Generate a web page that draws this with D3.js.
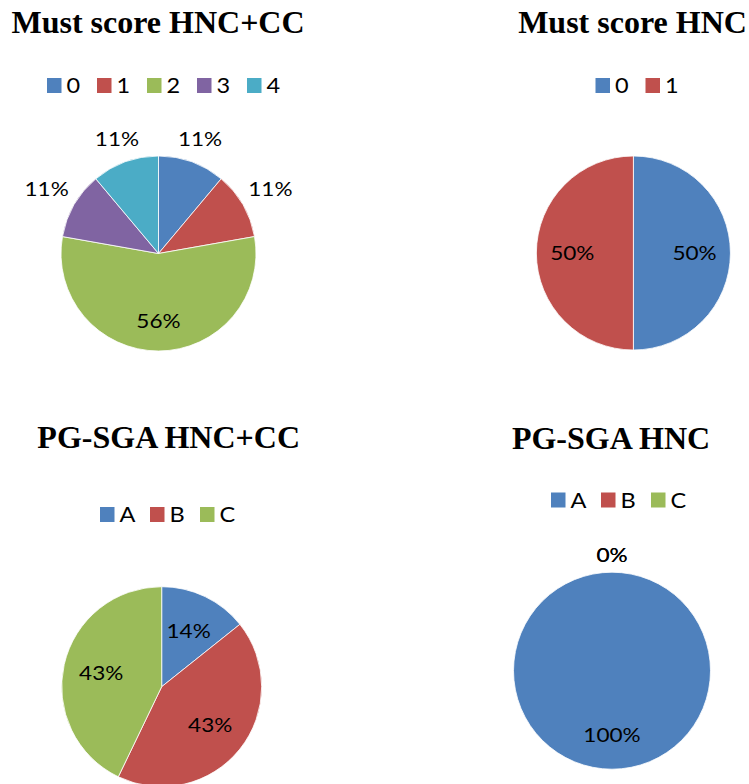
<!DOCTYPE html>
<html>
<head>
<meta charset="utf-8">
<script src="https://cdn.jsdelivr.net/npm/d3@7"></script>
<style>
    body { margin: 0; background: #fff; }
    svg { display: block; }
    .title { font-family: "Liberation Serif", "Times New Roman", serif; font-weight: bold; font-size: 32px; fill: #000; }
    .lbl { font-family: Lato, "Open Sans", sans-serif; font-size: 18.5px; fill: #000; }
    .leg { font-family: Lato, "Open Sans", sans-serif; font-size: 21px; fill: #000; }
</style>
</head>
<body>
<script>
// data (counts, shown as rounded %)
const mustHncCcCats = ['0', '1', '2', '3', '4']
const mustHncCcVals = [1, 1, 5, 1, 1]
const mustHncCats = ['0', '1']
const mustHncVals = [1, 1]
const pgHncCcCats = ['A', 'B', 'C']
const pgHncCcVals = [1, 3, 3]
const pgHncCats = ['A', 'B', 'C']
const pgHncVals = [2, 0, 0]
const titles = ['Must score HNC+CC', 'Must score HNC', 'PG-SGA HNC+CC', 'PG-SGA HNC']

const palette = ['#4F81BD', '#C0504D', '#9BBB59', '#8064A2', '#4BACC6']

// layout for each panel (pie centre, radius, title, legend)
const panels = [
    { cats: mustHncCcCats, vals: mustHncCcVals, cx: 158.5, cy: 253.5, r: 97.5, tx: 158, ty: 33, lx: 163.5, ly: 85.5, inner: 0.70 },
    { cats: mustHncCats, vals: mustHncVals, cx: 633.4, cy: 253, r: 97, tx: 632.5, ty: 33, lx: 637, ly: 85.5, inner: 0.63 },
    { cats: pgHncCcCats, vals: pgHncCcVals, cx: 161.7, cy: 686.7, r: 100, tx: 168.7, ty: 448, lx: 166.5, ly: 514.5, inner: 0.62 },
    { cats: pgHncCats, vals: pgHncVals, cx: 612, cy: 670.7, r: 98.5, tx: 611, ty: 449, lx: 617.5, ly: 500, inner: 0.66 },
]

const W = 749, H = 784
const LBL_SX = 1.22           // text in the picture is stretched sideways
const LEG_SX = 1.12
const OUTSIDE_MAX = Math.PI / 4 // thinner slices get their label outside
const LABEL_GAP = 8
const LEG_STEP = 50

const color = d3.scaleOrdinal().domain(d3.range(palette.length)).range(palette)

const svg = d3.select('body').append('svg')
    .attr('width', W)
    .attr('height', H)

panels.forEach((p, pi) => {
    const root = svg.append('g')

    // title
    root.append('text').attr('class', 'title')
        .attr('x', p.tx).attr('y', p.ty)
        .attr('text-anchor', 'middle')
        .text(titles[pi])

    // legend, centred on lx
    const n = p.cats.length
    const left = p.lx - (LEG_STEP * (n - 1) + 33) / 2
    const leg = root.append('g').attr('transform', `translate(${left},${p.ly})`)
    const item = leg.selectAll('g').data(p.cats).join('g')
        .attr('transform', (d, i) => `translate(${i * LEG_STEP},0)`)
    item.append('rect')
        .attr('x', 0).attr('y', -7.5)
        .attr('width', 14.5).attr('height', 15)
        .attr('fill', (d, i) => color(i))
    item.append('text').attr('class', 'leg')
        .attr('transform', `translate(19.5,0) scale(${LEG_SX},1)`)
        .attr('dy', '0.36em')
        .text(d => d)

    // pie
    const total = d3.sum(p.vals)
    const pie = d3.pie().sort(null).value(d => d)
    const slices = pie(p.vals)
    const arc = d3.arc().innerRadius(0).outerRadius(p.r)
    const g = root.append('g').attr('transform', `translate(${p.cx},${p.cy})`)

    // zero slices have no area, so skip them (else a white radius shows)
    g.selectAll('path').data(slices.filter(d => d.value > 0)).join('path')
        .attr('d', arc)
        .attr('fill', d => color(d.index))
        .attr('stroke', '#fff')
        .attr('stroke-width', 0.8)

    // data labels: inside for big slices, outside for thin ones
    slices.forEach(d => {
        const t = g.append('text').attr('class', 'lbl')
            .attr('text-anchor', 'middle')
            .attr('dy', '0.36em')
            .text(Math.round(d.value / total * 100) + '%')
        const w = t.node().getComputedTextLength() * LBL_SX
        const h = 18 // label box height, a bit more than the glyphs
        const a = (d.startAngle + d.endAngle) / 2
        let dist
        if (d.endAngle - d.startAngle < OUTSIDE_MAX) {
            dist = p.r + LABEL_GAP + Math.abs(Math.sin(a)) * w / 2 + Math.abs(Math.cos(a)) * h / 2
        } else {
            dist = p.r * p.inner
        }
        const [x, y] = d3.arc().innerRadius(dist).outerRadius(dist).centroid(d)
        t.attr('transform', `translate(${x},${y}) scale(${LBL_SX},1)`)
    })
})
</script>
</body>
</html>
